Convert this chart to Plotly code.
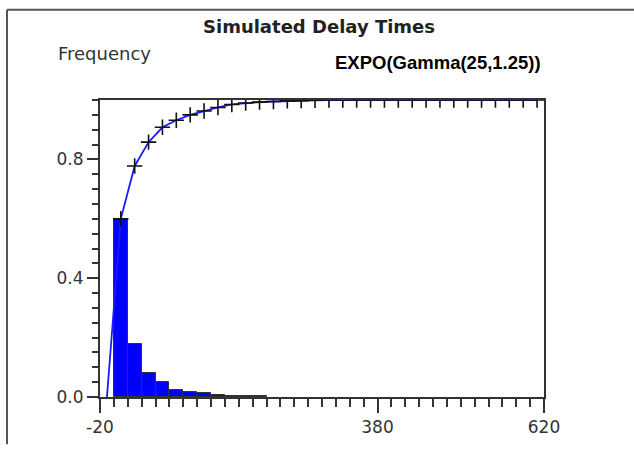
import plotly.graph_objects as go

# ---- data ----
bin_centers = [10, 30, 50, 70, 90, 110, 130, 150, 170, 190, 210]
bin_freq = [0.600, 0.178, 0.080, 0.050, 0.025, 0.017, 0.012, 0.008, 0.004, 0.003, 0.002]

cdf_x = [-10, 10, 30, 50, 70, 90, 110, 130, 150, 170, 190, 210, 230, 250, 270, 290,
         310, 330, 350, 370, 390, 410, 430, 450, 470, 490, 510, 530, 550, 570, 590, 610]
cdf_y = [0.0, 0.600, 0.778, 0.858, 0.908, 0.932, 0.950, 0.963, 0.975, 0.985, 0.990, 0.993,
         0.995, 0.997, 0.998, 0.999, 1.0, 1.0, 1.0, 1.0, 1.0, 1.0, 1.0, 1.0, 1.0,
         1.0, 1.0, 1.0, 1.0, 1.0, 1.0, 1.0]

x_tickvals = [-20, 380, 620]
x_ticktext = ["-20", "380", "620"]
y_tickvals = [0.0, 0.4, 0.8]
y_ticktext = ["0.0", "0.4", "0.8"]

title_text = "Simulated Delay Times"
ylabel_text = "Frequency"
dist_text = "EXPO(Gamma(25,1.25))"

# ---- figure ----
W, H = 634, 449
L, R, T, B = 100, 90, 100, 48
pw, ph = W - L - R, H - T - B


def px(xp):
    return (xp - L) / pw


def py(yp):
    return (H - B - yp) / ph


fig = go.Figure()
fig.add_trace(go.Bar(
    x=bin_centers, y=bin_freq, width=20,
    marker=dict(color="#0000ff", line=dict(color="#333333", width=1)),
    showlegend=False, hoverinfo="skip",
))
fig.add_trace(go.Scatter(
    x=cdf_x, y=cdf_y, mode="lines",
    line=dict(color="#1a1aff", width=1.8),
    showlegend=False, hoverinfo="skip",
))
fig.add_trace(go.Scatter(
    x=cdf_x[1:], y=cdf_y[1:], mode="markers",
    marker=dict(symbol="cross-thin", size=11, line=dict(color="#111111", width=1.6)),
    showlegend=False, hoverinfo="skip",
))

tickfont = dict(family="DejaVu Sans", size=17, color="#333333")

fig.update_layout(
    width=W, height=H,
    margin=dict(l=L, r=R, t=T, b=B, pad=0),
    paper_bgcolor="white", plot_bgcolor="white",
    bargap=0,
    xaxis=dict(
        range=[-20, 620], tickmode="array", tickvals=x_tickvals, ticktext=x_ticktext,
        ticks="outside", ticklen=14, tickwidth=1.8, tickcolor="#333333",
        showline=True, linecolor="#333333", linewidth=2, mirror=True,
        showgrid=False, zeroline=False, tickfont=tickfont,
        minor=dict(tick0=-20, dtick=20, ticks="outside", ticklen=8, tickwidth=1.8,
                   tickcolor="#333333", showgrid=False),
    ),
    yaxis=dict(
        range=[0, 1.0], tickmode="array", tickvals=y_tickvals, ticktext=y_ticktext,
        ticks="outside", ticklen=11, tickwidth=1.8, tickcolor="#333333",
        showline=True, linecolor="#333333", linewidth=2, mirror=True,
        showgrid=False, zeroline=False, tickfont=tickfont,
        minor=dict(tick0=0, dtick=0.05, ticks="outside", ticklen=6, tickwidth=1.8,
                   tickcolor="#333333", showgrid=False),
    ),
    annotations=[
        dict(text="<b>" + title_text + "</b>", x=px(319), y=py(25.5), xref="paper", yref="paper",
             xanchor="center", yanchor="middle", showarrow=False,
             font=dict(family="DejaVu Sans", size=18, color="#222222")),
        dict(text=ylabel_text, x=px(56), y=py(53), xref="paper", yref="paper",
             xanchor="left", yanchor="middle", showarrow=False,
             font=dict(family="DejaVu Sans", size=18, color="#333333")),
        dict(text="<b>" + dist_text + "</b>", x=px(333), y=py(61.5), xref="paper", yref="paper",
             xanchor="left", yanchor="middle", showarrow=False,
             font=dict(family="Liberation Sans", size=18.5, color="#000000")),
    ],
    shapes=[
        dict(type="line", xref="paper", yref="paper", x0=px(7), x1=px(634), y0=py(8.5), y1=py(8.5),
             line=dict(color="#555555", width=2)),
        dict(type="line", xref="paper", yref="paper", x0=px(7), x1=px(7), y0=py(8.5), y1=py(449),
             line=dict(color="#555555", width=2)),
    ],
)

fig.write_html("out.html")
